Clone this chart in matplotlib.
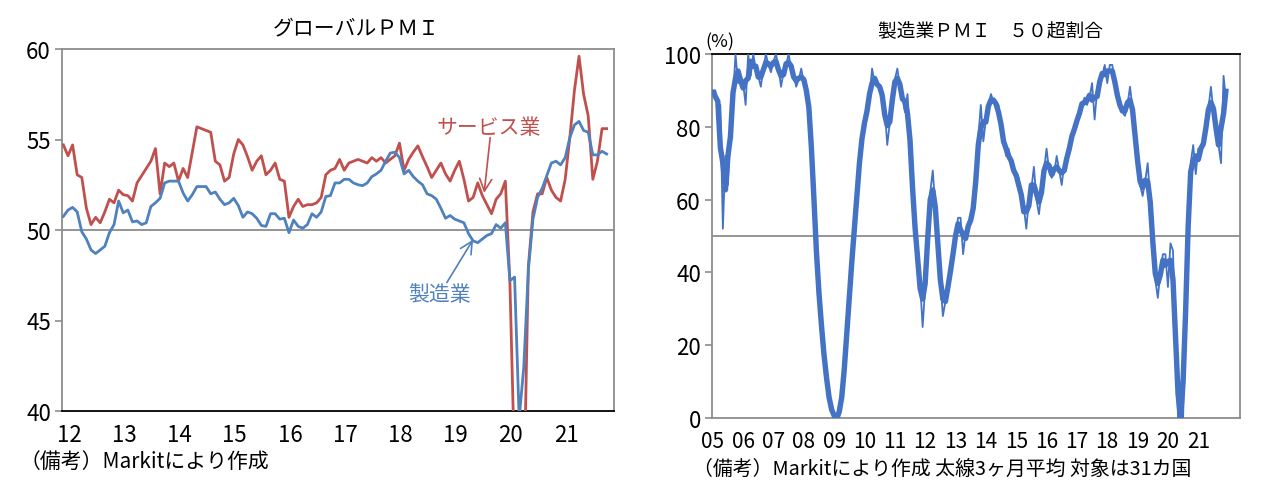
import numpy as np
import pandas as pd
import matplotlib
matplotlib.use('Agg')
import matplotlib.pyplot as plt
import matplotlib.font_manager as fm

# fonts: narrow digits if available, CJK for Japanese text
names = {f.name for f in fm.fontManager.ttflist}
num_font = 'Liberation Sans Narrow' if 'Liberation Sans Narrow' in names else 'Noto Sans CJK JP'
jp_font = ['Noto Sans CJK JP', 'DejaVu Sans']
plt.rcParams['font.family'] = [num_font, 'Noto Sans CJK JP', 'DejaVu Sans']

# ---- left chart: global PMI, monthly Jan 2012 - Nov 2021 ----
services = [
    54.7, 54.1, 54.7, 53.05, 52.9, 51.2, 50.3, 50.7, 50.4, 51.0, 51.7, 51.5,
    52.2, 51.95, 51.9, 51.6, 52.6, 53.0, 53.4, 53.8, 54.5, 52.0, 53.7, 53.5,
    53.7, 52.7, 53.4, 52.9, 54.3, 55.7, 55.6, 55.5, 55.4, 53.8, 53.6, 52.7,
    52.9, 54.2, 55.0, 54.7, 54.05, 53.3, 53.8, 54.1, 53.05, 53.3, 53.7, 52.8,
    52.7, 50.7, 51.3, 51.7, 51.3, 51.4, 51.4, 51.5, 51.8, 53.05, 53.3, 53.4,
    53.9, 53.3, 53.7, 53.8, 53.9, 53.8, 53.7, 54.0, 53.8, 54.0, 53.7, 53.9,
    54.1, 54.8, 53.3, 53.9, 54.3, 54.65, 54.05, 53.5, 52.9, 53.3, 53.7, 53.1,
    52.7, 53.3, 53.8, 52.8, 51.6, 51.8, 52.6, 51.9, 51.4, 50.9, 51.7, 52.0,
    52.7, 47.0, 37.0, 24.0, 35.0, 48.0, 51.0, 52.0, 52.0, 52.9, 52.2, 51.8,
    51.6, 52.8, 55.1, 57.7, 59.6, 57.5, 56.3, 52.8, 53.8, 55.6, 55.6,
]
manufacturing = [
    50.75, 51.1, 51.25, 51.0, 49.9, 49.5, 48.9, 48.7, 48.9, 49.1, 49.85, 50.3,
    51.6, 50.95, 51.1, 50.45, 50.5, 50.3, 50.4, 51.3, 51.5, 51.75, 52.6, 52.7,
    52.7, 52.7, 52.05, 51.6, 51.95, 52.4, 52.4, 52.4, 52.0, 52.1, 51.7, 51.4,
    51.5, 51.75, 51.35, 50.7, 51.0, 50.9, 50.65, 50.25, 50.2, 50.9, 50.9, 50.6,
    50.65, 49.85, 50.55, 50.2, 50.1, 50.3, 50.9, 50.7, 51.0, 51.85, 51.9, 52.6,
    52.6, 52.8, 52.8, 52.6, 52.5, 52.45, 52.6, 52.95, 53.1, 53.3, 53.8, 54.25,
    54.3, 54.0, 53.1, 53.3, 52.95, 52.7, 52.5, 52.0, 51.9, 51.7, 51.2, 50.65,
    50.8, 50.6, 50.5, 50.4, 49.8, 49.4, 49.3, 49.5, 49.7, 49.8, 50.3, 50.1,
    50.4, 47.2, 47.4, 39.6, 42.4, 47.8, 50.6, 51.8, 52.3, 53.0, 53.7, 53.8,
    53.6, 54.0, 55.1, 55.8, 56.0, 55.5, 55.4, 54.15, 54.15, 54.35, 54.2,
]
left_years = ['12', '13', '14', '15', '16', '17', '18', '19', '20', '21']

# ---- right chart: share of 31 countries with manufacturing PMI > 50 (%), Jan 2005 - Dec 2021 ----
share_above50 = [
    90, 90, 85, 86, 52, 72, 64, 80, 88, 100, 92, 94,      # 05
    92, 86, 100, 94, 100, 96, 94, 91, 96, 100, 97, 95,    # 06
    98, 100, 96, 91, 95, 97, 100, 96, 94, 91, 93, 96,     # 07
    92, 91, 87, 78, 58, 45, 34, 24, 18, 10, 5, 2,         # 08
    0, 0, 0, 5, 12, 23, 35, 42, 52, 62, 70, 78,           # 09
    82, 83, 88, 96, 92, 92, 91, 90, 85, 75, 81, 88,       # 10
    93, 96, 91, 88, 84, 89, 78, 62, 50, 45, 37, 25,       # 11
    36, 50, 62, 68, 58, 48, 38, 28, 32, 36, 40, 45,       # 12
    50, 55, 55, 45, 51, 52, 55, 56, 62, 77, 86, 76,       # 13
    82, 86, 89, 87, 86, 86, 80, 76, 72, 74, 70, 68,       # 14
    66, 66, 60, 58, 52, 60, 63, 69, 60, 56, 62, 68,       # 15
    74, 68, 66, 67, 72, 68, 64, 70, 70, 74, 78, 80,       # 16
    80, 85, 86, 88, 86, 88, 92, 82, 90, 93, 94, 97,       # 17
    92, 97, 97, 92, 88, 86, 84, 83, 86, 91, 85, 78,       # 18
    70, 64, 61, 65, 70, 60, 48, 38, 33, 40, 45, 45,       # 19
    36, 48, 46, 20, 0, 0, 0, 30, 58, 70, 75, 67,          # 20
    74, 72, 76, 78, 85, 91, 84, 80, 75, 70, 94, 87,       # 21
]
right_years = ['05', '06', '07', '08', '09', '10', '11', '12', '13', '14',
               '15', '16', '17', '18', '19', '20', '21']

RED = '#C0504D'
BLUE = '#4F81BD'
BLUE2 = '#4472C4'
GRAY = '#8C8C8C'

W, H = 1266, 489
fig = plt.figure(figsize=(W / 100, H / 100), dpi=100)

# ---------------- left ----------------
ax1 = fig.add_axes([62 / W, (H - 412) / H, 552 / W, 362 / H])
x1 = np.arange(len(services))
ax1.axhline(50, color=GRAY, lw=1.3, zorder=1)
ax1.plot(x1, services, color=RED, lw=2.0, zorder=3)
ax1.plot(np.arange(len(manufacturing)), manufacturing, color=BLUE, lw=2.0, zorder=4)
ax1.set_ylim(40, 60)
ax1.set_xlim(-0.3, 119.6)
ax1.set_yticks([40, 45, 50, 55, 60])
ax1.set_xticks(np.arange(len(left_years)) * 12 + 1.2)
ax1.set_xticklabels(left_years)
ax1.tick_params(axis='y', length=5, width=1.2, color=GRAY, labelsize=16, pad=3)
ax1.tick_params(axis='x', length=0, labelsize=16, pad=9)
for s in ['left', 'top', 'right']:
    ax1.spines[s].set_color(GRAY)
    ax1.spines[s].set_linewidth(1.3)
ax1.spines['bottom'].set_color('black')
ax1.spines['bottom'].set_linewidth(1.3)

ax1.text(92.4, 55.7, 'サービス業', color=RED, fontsize=15, ha='center', va='center',
         family=jp_font)
ax1.annotate('', xy=(91.4, 52.05), xytext=(92.7, 55.1),
             arrowprops=dict(arrowstyle='->', color=RED, lw=1.2,
                             shrinkA=0, shrinkB=0, mutation_scale=22))
ax1.text(81.6, 46.45, '製造業', color=BLUE, fontsize=15, ha='center', va='center',
         family=jp_font)
ax1.annotate('', xy=(89.0, 49.47), xytext=(83.3, 47.1),
             arrowprops=dict(arrowstyle='->', color=BLUE, lw=1.2,
                             shrinkA=0, shrinkB=0, mutation_scale=22))

fig.text(356 / W, 1 - 28 / H, 'グローバルＰＭＩ', ha='center', va='center',
         fontsize=15, family=jp_font)
fig.text(20 / W, 1 - 462 / H, '（備考）Markitにより作成', ha='left', va='center',
         fontsize=15, family=jp_font)

# ---------------- right ----------------
ax2 = fig.add_axes([712 / W, (H - 419) / H, 528 / W, 364 / H])
share = pd.Series(share_above50, dtype=float)
avg3 = share.rolling(3, center=True, min_periods=1).mean()
x2 = np.arange(len(share))
ax2.axhline(50, color=GRAY, lw=1.3, zorder=1)
ax2.plot(x2, share, color=BLUE2, lw=1.3, zorder=3)
ax2.plot(x2, avg3, color=BLUE2, lw=3.9, zorder=4, solid_capstyle='butt')
ax2.set_ylim(0, 100)
ax2.set_xlim(-0.3, 208.5)
ax2.set_yticks(np.arange(0, 101, 20))
ax2.set_xticks(np.arange(len(right_years)) * 12)
ax2.set_xticklabels(right_years)
ax2.tick_params(axis='y', length=5, width=1.2, color=GRAY, labelsize=16, pad=3)
ax2.tick_params(axis='x', length=0, labelsize=15, pad=9)
for s in ['left', 'right', 'bottom']:
    ax2.spines[s].set_color(GRAY)
    ax2.spines[s].set_linewidth(1.3)
ax2.spines['top'].set_color('black')
ax2.spines['top'].set_linewidth(1.3)

fig.text(990 / W, 1 - 31 / H, '製造業ＰＭＩ　５０超割合', ha='center', va='center',
         fontsize=13.5, family=jp_font)
fig.text(720 / W, 1 - 42 / H, '(%)', ha='center', va='center', fontsize=13)
fig.text(693 / W, 1 - 469 / H, '（備考）Markitにより作成 太線3ヶ月平均 対象は31カ国',
         ha='left', va='center', fontsize=14.3, family=jp_font)

fig.savefig('out.png', dpi=100)
